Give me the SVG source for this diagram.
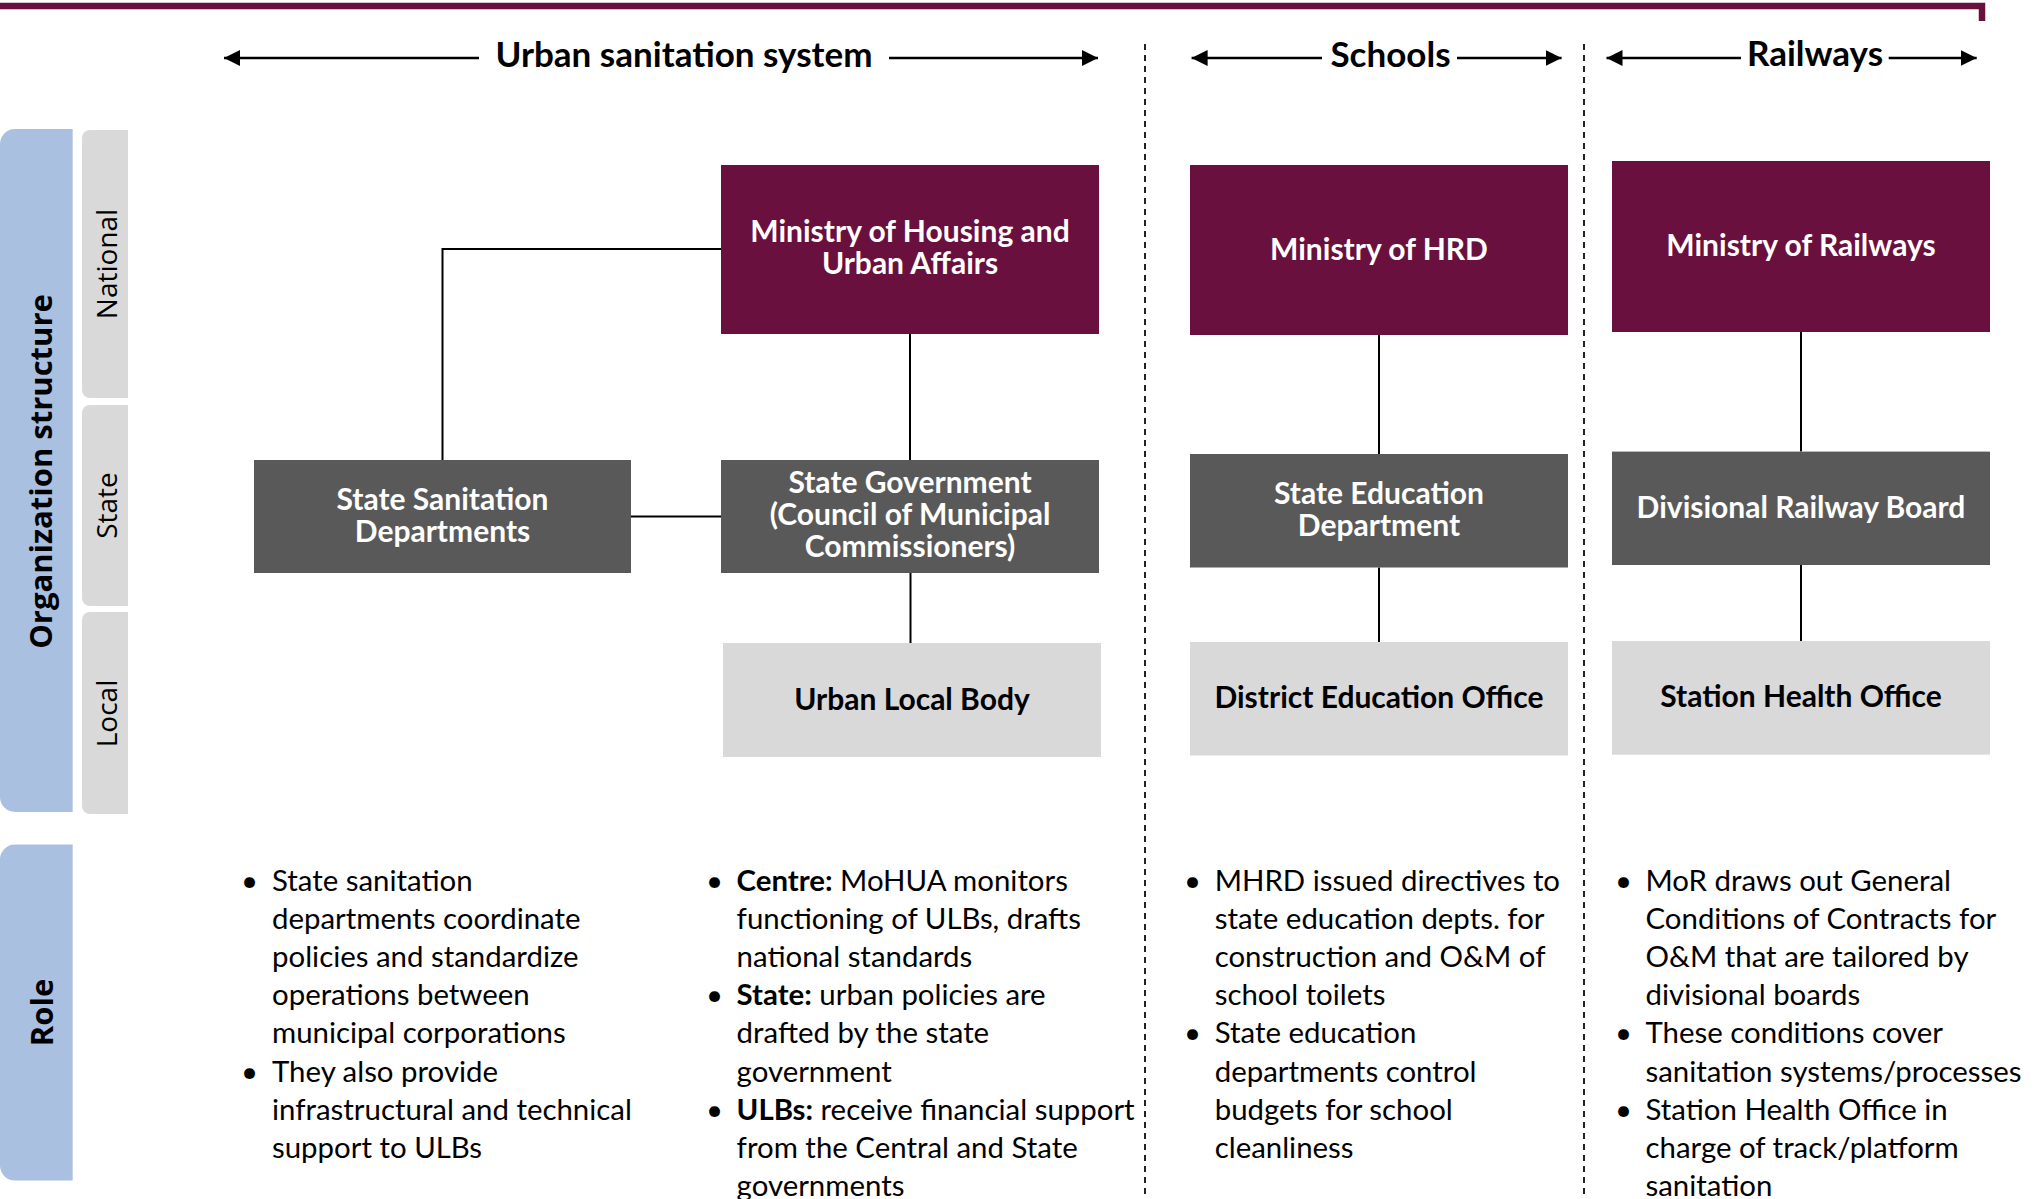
<svg xmlns="http://www.w3.org/2000/svg" width="2036" height="1199" viewBox="0 0 2036 1199">
<style>
.hdr{font-family:Lato,"Open Sans",sans-serif;font-weight:700;font-size:35px;fill:#000;text-anchor:middle}
.nt{font-family:Lato,"Open Sans",sans-serif;font-weight:700;font-size:30px;text-anchor:middle;fill:#fff}
.dk{fill:#000}
.body{font-family:Lato,"Open Sans",sans-serif;font-size:29.4px;fill:#000}
.b{font-weight:700}
.side{font-family:"Open Sans",sans-serif;font-size:28px;text-anchor:middle;fill:#000}
.sideb{font-family:"Open Sans",sans-serif;font-size:31px;font-weight:700;text-anchor:middle;fill:#000}
.nat{fill:#69103F}
.st{fill:#595959}
.loc{fill:#D9D9D9}
.blue{fill:#AAC0E0}
.tab{fill:#D9D9D9}
.conn{stroke:#000;stroke-width:2;fill:none}
.arr{stroke:#000;stroke-width:2.5;fill:none}
.dash{stroke:#222;stroke-width:2;stroke-dasharray:6 5;fill:none}
</style>
<defs>
<marker id="ah" viewBox="0 0 16 16" refX="16" refY="8" markerUnits="userSpaceOnUse" markerWidth="16" markerHeight="16" orient="auto">
<path d="M0,0 L16,8 L0,16 Z" fill="#000"/>
</marker>
</defs>

<!-- top border -->
<path d="M0,6 H1982 V21" stroke="#69103F" stroke-width="6.5" fill="none"/>

<!-- sidebar -->
<g id="sidebar">
<path class="blue" d="M72.7,129 H15 A15,15 0 0 0 0,144 V797 A15,15 0 0 0 15,812 H72.7 Z"/>
<path class="tab" d="M128,130 H90 A8,8 0 0 0 82,138 V390 A8,8 0 0 0 90,398 H128 Z"/>
<path class="tab" d="M128,405 H90 A8,8 0 0 0 82,413 V598 A8,8 0 0 0 90,606 H128 Z"/>
<path class="tab" d="M128,612 H90 A8,8 0 0 0 82,620 V806 A8,8 0 0 0 90,814 H128 Z"/>
<path class="blue" d="M72.7,844.5 H15 A15,15 0 0 0 0,859.5 V1165.6 A15,15 0 0 0 15,1180.6 H72.7 Z"/>
<text class="sideb" transform="translate(52,471.5) rotate(-90)">Organization structure</text>
<text class="side" transform="translate(117,264) rotate(-90)">National</text>
<text class="side" transform="translate(117,505.5) rotate(-90)">State</text>
<text class="side" transform="translate(117,713.5) rotate(-90)">Local</text>
<text class="sideb" transform="translate(52.5,1012.5) rotate(-90)">Role</text>
</g>

<!-- headers -->
<g id="headers">
<text class="hdr" x="684" y="67">Urban sanitation system</text>
<text class="hdr" x="1390.5" y="67">Schools</text>
<text class="hdr" x="1815" y="66">Railways</text>
<line class="arr" x1="479" y1="58" x2="224" y2="58" marker-end="url(#ah)"/>
<line class="arr" x1="889" y1="58" x2="1098" y2="58" marker-end="url(#ah)"/>
<line class="arr" x1="1322" y1="58" x2="1191.6" y2="58" marker-end="url(#ah)"/>
<line class="arr" x1="1457" y1="58" x2="1561.6" y2="58" marker-end="url(#ah)"/>
<line class="arr" x1="1741" y1="58" x2="1606.5" y2="58" marker-end="url(#ah)"/>
<line class="arr" x1="1888.7" y1="58" x2="1976.7" y2="58" marker-end="url(#ah)"/>
</g>

<!-- separators -->
<g id="separators">
<line class="dash" x1="1145" y1="44" x2="1145" y2="1199"/>
<line class="dash" x1="1584" y1="44" x2="1584" y2="1199"/>
</g>

<!-- connectors -->
<g id="connectors">
<path class="conn" d="M721,249 H442.5 V460"/>
<line class="conn" x1="910" y1="334" x2="910" y2="460"/>
<line class="conn" x1="631" y1="516.5" x2="721" y2="516.5"/>
<line class="conn" x1="910.5" y1="573" x2="910.5" y2="643"/>
<line class="conn" x1="1379" y1="335" x2="1379" y2="454"/>
<line class="conn" x1="1379" y1="567.5" x2="1379" y2="642"/>
<line class="conn" x1="1801" y1="332" x2="1801" y2="451.6"/>
<line class="conn" x1="1801" y1="565" x2="1801" y2="641"/>
</g>

<!-- nodes -->
<g id="mohua">
<rect class="nat" x="721" y="165" width="378" height="169"/>
<text class="nt" x="910" y="242">Ministry of Housing and</text>
<text class="nt" x="910" y="274">Urban Affairs</text>
</g>
<g id="ssd">
<rect class="st" x="254" y="460" width="377" height="113"/>
<text class="nt" x="442.5" y="509.5">State Sanitation</text>
<text class="nt" x="442.5" y="541.5">Departments</text>
</g>
<g id="stategov">
<rect class="st" x="721" y="460" width="378" height="113"/>
<text class="nt" x="910" y="493">State Government</text>
<text class="nt" x="910" y="525">(Council of Municipal</text>
<text class="nt" x="910" y="557">Commissioners)</text>
</g>
<g id="ulb">
<rect class="loc" x="723" y="643" width="378" height="114"/>
<text class="nt dk" x="912" y="709.5">Urban Local Body</text>
</g>
<g id="mhrd">
<rect class="nat" x="1190" y="165" width="378" height="170"/>
<text class="nt" x="1379" y="259.5">Ministry of HRD</text>
</g>
<g id="sed">
<rect class="st" x="1190" y="454" width="378" height="113.5"/>
<text class="nt" x="1379" y="503.5">State Education</text>
<text class="nt" x="1379" y="535.5">Department</text>
</g>
<g id="deo">
<rect class="loc" x="1190" y="642" width="378" height="113.5"/>
<text class="nt dk" x="1379" y="708">District Education Office</text>
</g>
<g id="mor">
<rect class="nat" x="1612" y="161" width="378" height="171"/>
<text class="nt" x="1801" y="256">Ministry of Railways</text>
</g>
<g id="drb">
<rect class="st" x="1612" y="451.6" width="378" height="113.4"/>
<text class="nt" x="1801" y="517.5">Divisional Railway Board</text>
</g>
<g id="sho">
<rect class="loc" x="1612" y="641" width="378" height="113.7"/>
<text class="nt dk" x="1801" y="707">Station Health Office</text>
</g>

<!-- roles -->
<g id="role-ssd" class="body">
<text x="241" y="890.5">•</text>
<text x="272" y="890.5">State sanitation</text>
<text x="272" y="928.7">departments coordinate</text>
<text x="272" y="966.9">policies and standardize</text>
<text x="272" y="1005.1">operations between</text>
<text x="272" y="1043.3">municipal corporations</text>
<text x="241" y="1081.5">•</text>
<text x="272" y="1081.5">They also provide</text>
<text x="272" y="1119.7">infrastructural and technical</text>
<text x="272" y="1157.9">support to ULBs</text>
</g>
<g id="role-urban" class="body">
<text x="706" y="890.5">•</text>
<text x="736.6" y="890.5"><tspan class="b">Centre:</tspan> MoHUA monitors</text>
<text x="736.6" y="928.7">functioning of ULBs, drafts</text>
<text x="736.6" y="966.9">national standards</text>
<text x="706" y="1005.1">•</text>
<text x="736.6" y="1005.1"><tspan class="b">State:</tspan> urban policies are</text>
<text x="736.6" y="1043.3">drafted by the state</text>
<text x="736.6" y="1081.5">government</text>
<text x="706" y="1119.7">•</text>
<text x="736.6" y="1119.7"><tspan class="b">ULBs:</tspan> receive financial support</text>
<text x="736.6" y="1157.9">from the Central and State</text>
<text x="736.6" y="1196.1">governments</text>
</g>
<g id="role-schools" class="body">
<text x="1184" y="890.5">•</text>
<text x="1214.7" y="890.5">MHRD issued directives to</text>
<text x="1214.7" y="928.7">state education depts. for</text>
<text x="1214.7" y="966.9">construction and O&amp;M of</text>
<text x="1214.7" y="1005.1">school toilets</text>
<text x="1184" y="1043.3">•</text>
<text x="1214.7" y="1043.3">State education</text>
<text x="1214.7" y="1081.5">departments control</text>
<text x="1214.7" y="1119.7">budgets for school</text>
<text x="1214.7" y="1157.9">cleanliness</text>
</g>
<g id="role-rail" class="body">
<text x="1615" y="890.5">•</text>
<text x="1645.5" y="890.5">MoR draws out General</text>
<text x="1645.5" y="928.7">Conditions of Contracts for</text>
<text x="1645.5" y="966.9">O&amp;M that are tailored by</text>
<text x="1645.5" y="1005.1">divisional boards</text>
<text x="1615" y="1043.3">•</text>
<text x="1645.5" y="1043.3">These conditions cover</text>
<text x="1645.5" y="1081.5">sanitation systems/processes</text>
<text x="1615" y="1119.7">•</text>
<text x="1645.5" y="1119.7">Station Health Office in</text>
<text x="1645.5" y="1157.9">charge of track/platform</text>
<text x="1645.5" y="1196.1">sanitation</text>
</g>
</svg>
